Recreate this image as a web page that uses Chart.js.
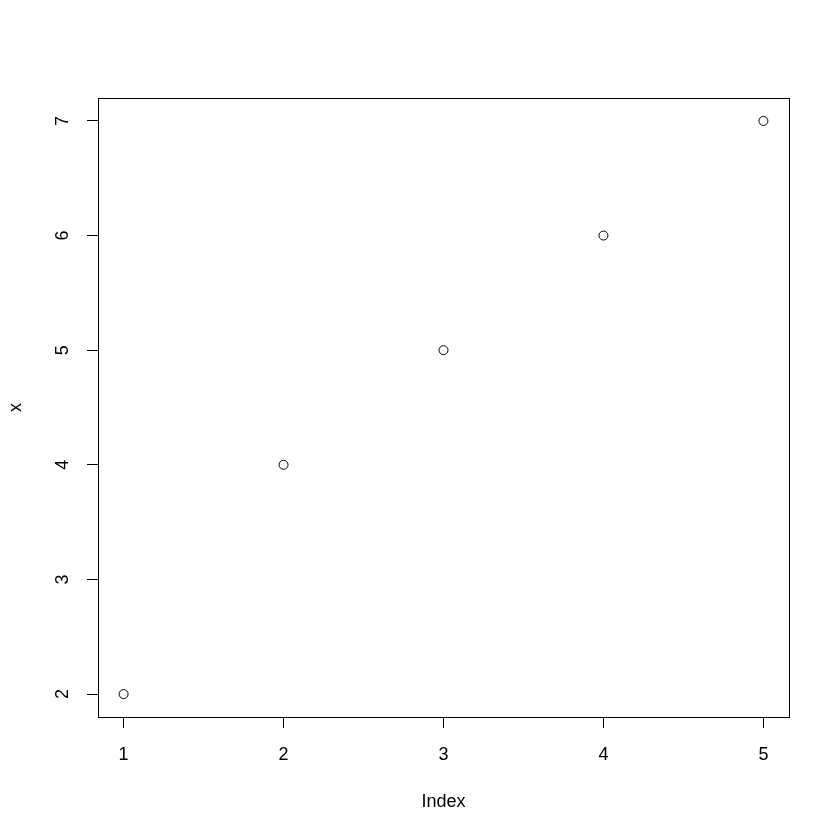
<!DOCTYPE html>
<html>
<head>
<meta charset="utf-8">
<script src="https://cdn.jsdelivr.net/npm/chart.js@4/dist/chart.umd.min.js"></script>
<style>
  html, body { margin: 0; padding: 0; background: #fff; }
</style>
</head>
<body>
<canvas id="plot" width="840" height="840"></canvas>
<script>
const indexValues = [1, 2, 3, 4, 5];
const xValues = [2, 4, 5, 6, 7];
const xTicks = [1, 2, 3, 4, 5];
const yTicks = [2, 3, 4, 5, 6, 7];

const FONT = { family: '"Liberation Sans", Arial, sans-serif', size: 18 };

// frame around the plot region, like R's box()
const boxPlugin = {
    id: 'box',
    afterDraw(chart) {
        const { ctx, chartArea: a } = chart;
        ctx.save();
        ctx.strokeStyle = '#000';
        ctx.lineWidth = 1;
        ctx.strokeRect(Math.round(a.left) + 0.5, Math.round(a.top) + 0.5,
            Math.round(a.right - a.left), Math.round(a.bottom - a.top));
        ctx.restore();
    }
};

const ctx = document.getElementById('plot').getContext('2d');
new Chart(ctx, {
    type: 'scatter',
    data: {
        datasets: [{
            data: indexValues.map((v, i) => ({ x: v, y: xValues[i] })),
            pointStyle: 'circle',
            pointRadius: 4.5,
            pointHoverRadius: 4.5,
            pointBorderWidth: 1,
            borderColor: '#000',
            backgroundColor: 'rgba(0,0,0,0)'
        }]
    },
    options: {
        responsive: false,
        devicePixelRatio: 1,
        animation: false,
        layout: { padding: { top: 98, right: 51, left: 0, bottom: 0 } },
        plugins: {
            legend: { display: false },
            tooltip: { enabled: false }
        },
        scales: {
            x: {
                type: 'linear',
                min: 0.84,
                max: 5.16,
                afterBuildTicks: s => { s.ticks = xTicks.map(v => ({ value: v })); },
                afterFit: s => { s.height = 123; },
                border: { display: false },
                grid: { drawOnChartArea: false, drawTicks: true, tickLength: 11, color: '#000', lineWidth: 1 },
                ticks: { color: '#000', font: FONT, padding: 16, maxRotation: 0, autoSkip: false },
                title: { display: true, text: 'Index', color: '#000', font: FONT, padding: { top: 0, bottom: 27 } }
            },
            y: {
                type: 'linear',
                min: 1.8,
                max: 7.2,
                afterBuildTicks: s => { s.ticks = yTicks.map(v => ({ value: v })); },
                afterFit: s => { s.width = 98; },
                border: { display: false },
                grid: { drawOnChartArea: false, drawTicks: true, tickLength: 11, color: '#000', lineWidth: 1 },
                ticks: { color: '#000', font: FONT, padding: 19, minRotation: 90, maxRotation: 90, crossAlign: 'center', autoSkip: false },
                title: { display: true, text: 'x', color: '#000', font: FONT, padding: { top: 5, bottom: 0 } }
            }
        }
    },
    plugins: [boxPlugin]
});
</script>
</body>
</html>
